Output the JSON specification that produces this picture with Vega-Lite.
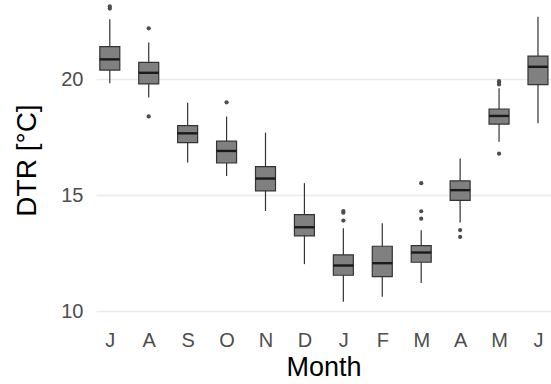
{
  "$schema": "https://vega.github.io/schema/vega-lite/v6.json",
  "width": 455,
  "height": 320,
  "autosize": {"type": "none"},
  "padding": {"left": 96, "top": 0, "right": 0, "bottom": 64},
  "config": {
    "view": {"stroke": null},
    "font": "Liberation Sans",
    "axis": {"labelFont": "Liberation Sans", "titleFont": "Liberation Sans"}
  },
  "datasets": {
    "stats": [
      {"m": 1, "lo": 19.83, "q1": 20.40, "med": 20.86, "q3": 21.41, "hi": 22.59},
      {"m": 2, "lo": 19.22, "q1": 19.80, "med": 20.28, "q3": 20.73, "hi": 21.59},
      {"m": 3, "lo": 16.41, "q1": 17.27, "med": 17.67, "q3": 18.00, "hi": 18.99},
      {"m": 4, "lo": 15.83, "q1": 16.39, "med": 16.91, "q3": 17.33, "hi": 18.39},
      {"m": 5, "lo": 14.32, "q1": 15.19, "med": 15.72, "q3": 16.23, "hi": 17.70},
      {"m": 6, "lo": 12.03, "q1": 13.25, "med": 13.62, "q3": 14.16, "hi": 15.52},
      {"m": 7, "lo": 10.41, "q1": 11.55, "med": 11.97, "q3": 12.43, "hi": 13.58},
      {"m": 8, "lo": 10.62, "q1": 11.49, "med": 12.07, "q3": 12.80, "hi": 13.79},
      {"m": 9, "lo": 11.22, "q1": 12.11, "med": 12.53, "q3": 12.83, "hi": 13.49},
      {"m": 10, "lo": 13.83, "q1": 14.78, "med": 15.22, "q3": 15.62, "hi": 16.59},
      {"m": 11, "lo": 17.31, "q1": 18.07, "med": 18.42, "q3": 18.72, "hi": 19.61},
      {"m": 12, "lo": 18.10, "q1": 19.77, "med": 20.54, "q3": 21.00, "hi": 22.70}
    ],
    "outliers": [
      {"m": 1, "v": 23.14}, {"m": 1, "v": 23.05},
      {"m": 2, "v": 22.20}, {"m": 2, "v": 18.40},
      {"m": 4, "v": 19.01},
      {"m": 7, "v": 14.32}, {"m": 7, "v": 14.25}, {"m": 7, "v": 13.91},
      {"m": 9, "v": 15.52}, {"m": 9, "v": 14.31}, {"m": 9, "v": 13.99},
      {"m": 10, "v": 13.50}, {"m": 10, "v": 13.20},
      {"m": 11, "v": 19.92}, {"m": 11, "v": 19.85}, {"m": 11, "v": 19.78}, {"m": 11, "v": 16.79}
    ]
  },
  "layer": [
    {
      "data": {"name": "stats"},
      "mark": {"type": "rule", "color": "#333333", "strokeWidth": 1.2, "clip": true},
      "encoding": {
        "x": {
          "field": "m", "type": "quantitative",
          "scale": {"domain": [0.774, 12.206], "nice": false, "zero": false},
          "axis": {
            "values": [1, 2, 3, 4, 5, 6, 7, 8, 9, 10, 11, 12],
            "labelExpr": "['J','A','S','O','N','D','J','F','M','A','M','J'][datum.value - 1]",
            "domain": false, "ticks": false, "grid": false,
            "labelFontSize": 20, "labelColor": "#4d4d4d", "labelPadding": 10,
            "title": "Month", "titleFontSize": 27, "titleFontWeight": "normal", "titleColor": "#000000", "titlePadding": 4
          }
        },
        "y": {
          "field": "lo", "type": "quantitative",
          "scale": {"domain": [9.62, 23.42], "nice": false, "zero": false},
          "axis": {
            "values": [10, 15, 20],
            "domain": false, "ticks": false, "grid": true, "gridColor": "#ebebeb", "gridWidth": 1.6,
            "labelFontSize": 20, "labelColor": "#4d4d4d", "labelPadding": 13,
            "title": "DTR [°C]", "titleFontSize": 28, "titleFontWeight": "normal", "titleColor": "#000000", "titlePadding": 19
          }
        },
        "y2": {"field": "hi"}
      }
    },
    {
      "data": {"name": "stats"},
      "mark": {"type": "bar", "width": 20, "fill": "#808080", "stroke": "#333333", "strokeWidth": 1.2, "clip": true},
      "encoding": {
        "x": {"field": "m", "type": "quantitative"},
        "y": {"field": "q1", "type": "quantitative"},
        "y2": {"field": "q3"}
      }
    },
    {
      "data": {"name": "stats"},
      "mark": {"type": "tick", "orient": "horizontal", "size": 20, "thickness": 2.4, "color": "#1a1a1a", "opacity": 1, "clip": true},
      "encoding": {
        "x": {"field": "m", "type": "quantitative"},
        "y": {"field": "med", "type": "quantitative"}
      }
    },
    {
      "data": {"name": "outliers"},
      "mark": {"type": "circle", "size": 18, "color": "#4d4d4d", "opacity": 1, "clip": true},
      "encoding": {
        "x": {"field": "m", "type": "quantitative"},
        "y": {"field": "v", "type": "quantitative"}
      }
    }
  ]
}
